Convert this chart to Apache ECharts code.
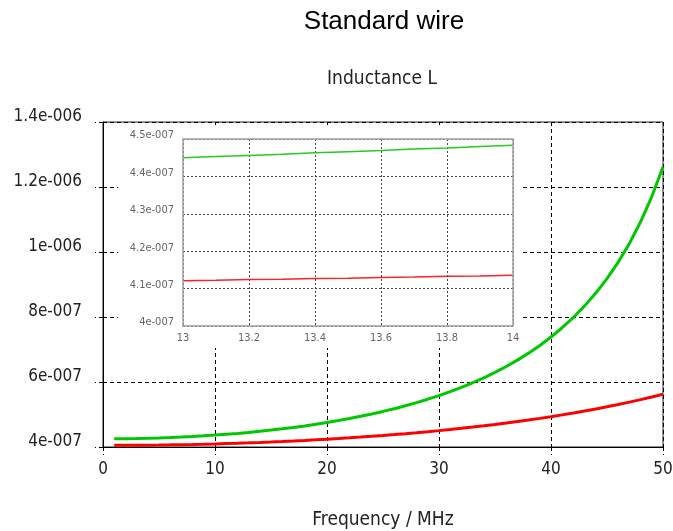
<!DOCTYPE html>
<html>
<head>
<meta charset="utf-8" />
<title>Standard wire</title>
<script type="text/javascript" src="https://cdn.jsdelivr.net/npm/echarts@6/dist/echarts.min.js"></script>
</head>
<body style="margin:0;">
<div id="chart" style="width:673px;height:531px;"></div>
<script type="text/javascript">
// values in units of 1e-7 H
var UNIT = 1e-7;
var freq = [1,2,3,4,5,6,7,8,9,10,11,12,13,14,15,16,17,18,19,20,21,22,23,24,25,
            26,27,28,29,30,31,32,33,34,35,36,37,38,39,40,41,42,43,44,45,46,47,48,49,50];
var greenL = [4.251,4.255,4.260,4.268,4.278,4.291,4.306,4.324,4.343,4.366,
              4.391,4.419,4.449,4.483,4.520,4.560,4.603,4.649,4.700,4.755,
              4.813,4.876,4.944,5.017,5.095,5.179,5.269,5.366,5.471,5.583,
              5.704,5.835,5.977,6.129,6.295,6.477,6.673,6.888,7.124,7.384,
              7.670,7.987,8.342,8.736,9.181,9.688,10.263,10.929,11.705,12.615];
var redL = [4.051,4.052,4.054,4.057,4.061,4.066,4.072,4.079,4.087,4.096,
            4.106,4.116,4.128,4.141,4.155,4.170,4.186,4.203,4.221,4.240,
            4.260,4.282,4.305,4.329,4.355,4.382,4.410,4.440,4.471,4.504,
            4.538,4.575,4.613,4.652,4.694,4.738,4.783,4.831,4.881,4.934,
            4.989,5.047,5.107,5.171,5.238,5.308,5.381,5.458,5.539,5.625];

// zoomed inset 13..14 MHz
var insetFreq = [13.0,13.1,13.2,13.3,13.4,13.5,13.6,13.7,13.8,13.9,14.0];
var insetGreen = [4.450,4.453,4.456,4.459,4.463,4.466,4.469,4.473,4.476,4.480,4.483];
var insetRed = [4.121,4.122,4.124,4.125,4.127,4.128,4.130,4.131,4.133,4.134,4.136];

function pairs(xs, ys) {
    var res = [];
    for (var i = 0; i < xs.length; i++) {
        res.push([xs[i], ys[i] * UNIT]);
    }
    return res;
}

// 1.4e-6 -> "1.4e-006"
function expLabel(v) {
    var s = Number(v.toPrecision(6)).toExponential();
    var p = s.split('e');
    var e = parseInt(p[1], 10);
    return p[0] + 'e' + (e < 0 ? '-' : '+') + ('00' + Math.abs(e)).slice(-3);
}

var FONT = '"DejaVu Sans Condensed", "DejaVu Sans", sans-serif';

var chart = echarts.init(document.getElementById('chart'));
var option = {
    backgroundColor: '#fff',
    animation: false,
    graphic: [
        { type: 'text', x: 384, y: 22, z: 20,
          style: { text: 'Standard wire', align: 'center', verticalAlign: 'middle',
                   fontSize: 26, fontFamily: '"Liberation Sans", Arial, sans-serif', fill: '#000' } },
        { type: 'text', x: 382, y: 79, z: 20,
          style: { text: 'Inductance L', align: 'center', verticalAlign: 'middle',
                   fontSize: 19, fontFamily: FONT, fill: '#222' } },
        // white area behind the inset
        { type: 'rect', z: 5, shape: { x: 118, y: 125, width: 402, height: 223 },
          style: { fill: '#fff' } },
        // inset frame drawn over its grid lines
        { type: 'rect', z: 15, shape: { x: 183, y: 139, width: 330, height: 187 },
          style: { fill: null, stroke: '#a0a0a0', lineWidth: 1.5 } }
    ],
    grid: [
        { left: 103, top: 122, width: 560, height: 325, show: true, outerBoundsMode: 'none',
          borderColor: '#222', borderWidth: 1, backgroundColor: '#fff' },
        { left: 183, top: 139, width: 330, height: 187, show: true, z: 10, outerBoundsMode: 'none',
          borderWidth: 0, backgroundColor: '#fff' }
    ],
    xAxis: [{
        gridIndex: 0, type: 'value', min: 0, max: 50, interval: 10,
        name: 'Frequency / MHz', nameLocation: 'middle', nameGap: 64,
        nameTextStyle: { fontSize: 19, fontFamily: FONT, color: '#222' },
        axisLine: { lineStyle: { color: '#000', width: 1 } },
        axisTick: { show: true, length: 8, lineStyle: { color: '#000', type: [4, 3] } },
        axisLabel: { fontSize: 17, fontFamily: FONT, color: '#222', margin: 14 },
        splitLine: { show: true, lineStyle: { color: '#000', type: [4, 3], width: 1 } }
    }, {
        gridIndex: 1, type: 'value', min: 13, max: 14, interval: 0.2, z: 11,
        axisLine: { show: false },
        axisTick: { show: false },
        axisLabel: { fontSize: 11, fontFamily: FONT, color: '#666', margin: 7 },
        splitLine: { show: true, lineStyle: { color: '#444', type: [2, 2], width: 1 } }
    }],
    yAxis: [{
        gridIndex: 0, type: 'value', min: 4e-7, max: 1.4e-6, interval: 2e-7,
        axisLine: { show: true, lineStyle: { color: '#000', width: 1 } },
        axisTick: { show: true, length: 8, lineStyle: { color: '#000', type: [4, 3] } },
        axisLabel: { fontSize: 17, fontFamily: FONT, color: '#222', margin: 21,
                     verticalAlign: 'bottom', padding: [0, 0, -3, 0], formatter: expLabel },
        splitLine: { show: true, lineStyle: { color: '#000', type: [4, 3], width: 1 } }
    }, {
        gridIndex: 1, type: 'value', min: 4e-7, max: 4.5e-7, interval: 1e-8, z: 11,
        axisLine: { show: false },
        axisTick: { show: false },
        axisLabel: { fontSize: 11, fontFamily: FONT, color: '#666', margin: 9,
                     verticalAlign: 'bottom', padding: [0, 0, -2, 0], formatter: expLabel },
        splitLine: { show: true, lineStyle: { color: '#444', type: [2, 2], width: 1 } }
    }],
    series: [{
        name: 'green', type: 'line', xAxisIndex: 0, yAxisIndex: 0,
        data: pairs(freq, greenL), showSymbol: false, symbol: 'none',
        lineStyle: { color: '#00c800', width: 3 }
    }, {
        name: 'red', type: 'line', xAxisIndex: 0, yAxisIndex: 0,
        data: pairs(freq, redL), showSymbol: false, symbol: 'none',
        lineStyle: { color: '#ff0000', width: 3 }
    }, {
        name: 'green inset', type: 'line', xAxisIndex: 1, yAxisIndex: 1, z: 12,
        data: pairs(insetFreq, insetGreen), showSymbol: false, symbol: 'none',
        lineStyle: { color: '#22cc22', width: 1.5 }
    }, {
        name: 'red inset', type: 'line', xAxisIndex: 1, yAxisIndex: 1, z: 12,
        data: pairs(insetFreq, insetRed), showSymbol: false, symbol: 'none',
        lineStyle: { color: '#ff2222', width: 1.5 }
    }]
};
chart.setOption(option);
</script>
</body>
</html>
